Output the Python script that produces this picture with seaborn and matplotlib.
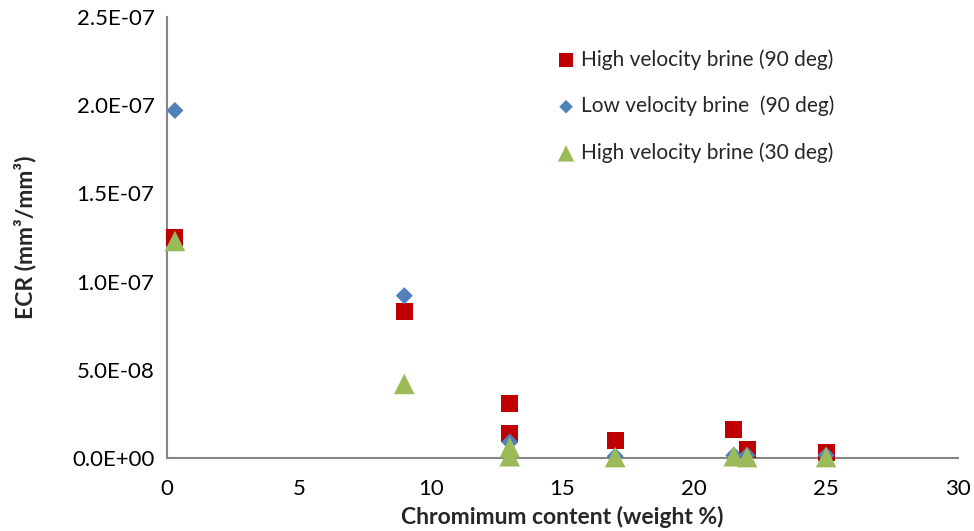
import numpy as np
import pandas as pd
import matplotlib
matplotlib.use("Agg")
import matplotlib.pyplot as plt
import seaborn as sns
from matplotlib.ticker import FuncFormatter, MultipleLocator

# data
chrom_hv90 = [0.3, 9, 13, 13, 17, 21.5, 22, 25]
ecr_hv90 = [1.25e-7, 8.3e-8, 3.1e-8, 1.4e-8, 1.0e-8, 1.6e-8, 0.5e-8, 0.3e-8]

chrom_lv90 = [0.3, 9, 13, 17, 21.5, 22, 25]
ecr_lv90 = [1.97e-7, 9.2e-8, 0.9e-8, 0.1e-8, 0.15e-8, 0.15e-8, 0.15e-8]

chrom_hv30 = [0.3, 9, 13, 13, 17, 21.5, 22, 25]
ecr_hv30 = [1.23e-7, 4.2e-8, 0.6e-8, 0.1e-8, 0.05e-8, 0.1e-8, 0.05e-8, 0.05e-8]

labels = ["High velocity brine (90 deg)", "Low velocity brine  (90 deg)",
          "High velocity brine (30 deg)"]

sns.set_style("white")
plt.rcParams['font.family'] = ['Lato', 'DejaVu Sans']

fig = plt.figure(figsize=(9.74, 5.31), dpi=100)
ax = fig.add_axes([0.1715, 0.1375, 0.812, 0.8305])

sns.scatterplot(x=chrom_hv90, y=ecr_hv90, marker='s', s=150, color='#C00000',
                edgecolor='none', label=labels[0], ax=ax, zorder=3, clip_on=False)
sns.scatterplot(x=chrom_lv90, y=ecr_lv90, marker='D', s=75, color='#4F81BD',
                edgecolor='none', label=labels[1], ax=ax, zorder=4, clip_on=False)
sns.scatterplot(x=chrom_hv30, y=ecr_hv30, marker='^', s=220, color='#9BBB59',
                edgecolor='none', label=labels[2], ax=ax, zorder=5, clip_on=False)

ax.set_xlim(0, 30)
ax.set_ylim(0, 2.5e-7)
ax.xaxis.set_major_locator(MultipleLocator(5))
ax.yaxis.set_major_locator(MultipleLocator(5e-8))
ax.yaxis.set_major_formatter(FuncFormatter(lambda v, p: f"{v:.1E}"))

for side in ['top', 'right']:
    ax.spines[side].set_visible(False)
for side in ['left', 'bottom']:
    ax.spines[side].set_color('#868686')
    ax.spines[side].set_linewidth(1.5)
ax.tick_params(axis='both', direction='out', length=5, width=1.2, color='#868686',
               labelsize=16, labelcolor='black', pad=4)
ax.tick_params(axis='x', pad=10)

ax.set_xlabel("Chromimum content (weight %)", fontsize=16.5, fontweight='bold', labelpad=5)
ax.set_ylabel("ECR (mm³/mm³)", fontsize=16.5, fontweight='bold', labelpad=26)

leg = ax.legend(loc='upper left', bbox_to_anchor=(0.465, 0.97), frameon=False,
                fontsize=15, labelspacing=1.25, handletextpad=0.1, handlelength=1.2,
                markerscale=0.8)

fig.savefig("out.png", dpi=100)
